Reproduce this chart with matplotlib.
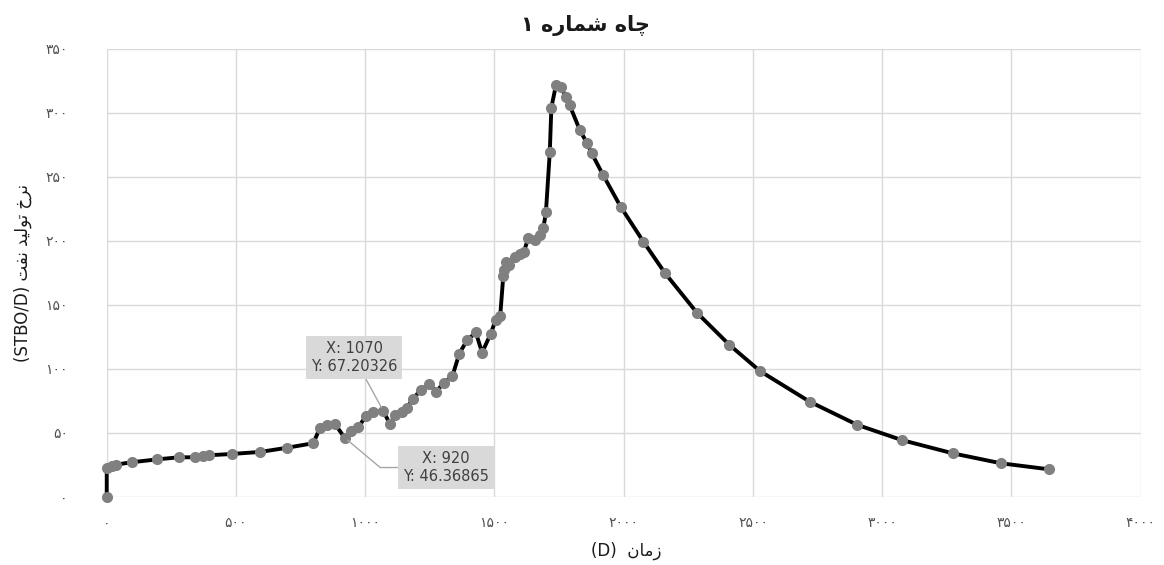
import matplotlib
matplotlib.use("Agg")
import matplotlib.pyplot as plt
from matplotlib.ticker import MultipleLocator, FuncFormatter

# Production data
days = [0, 0, 19, 36, 96, 196, 279, 340, 374, 397, 484, 594, 696, 799, 825, 851,
        883, 920, 944, 973, 1003, 1031, 1070, 1096, 1115, 1141, 1160, 1184, 1215,
        1248, 1274, 1305, 1337, 1364, 1394, 1428, 1452, 1485, 1504, 1522, 1534,
        1538, 1545, 1558, 1580, 1600, 1614, 1630, 1658, 1677, 1689, 1699, 1714,
        1720, 1738, 1756, 1776, 1791, 1830, 1857, 1876, 1920, 1988, 2076, 2160,
        2283, 2409, 2527, 2719, 2904, 3075, 3273, 3460, 3646]
rate = [0, 22.4, 24.2, 25.3, 27.1, 29.4, 31.0, 31.0, 31.8, 32.6, 33.6, 35.2, 38.4,
        42.0, 54.0, 56.0, 57.0, 46.36865, 51.5, 54.4, 63.3, 66.0, 67.20326, 56.8,
        64.0, 66.7, 69.3, 76.5, 83.6, 88.5, 82.3, 89.3, 94.3, 112.0, 122.5, 128.5,
        112.8, 127.3, 138.0, 141.0, 172.7, 177.3, 183.8, 181.3, 187.7, 189.8,
        191.6, 202.0, 200.5, 204.3, 209.9, 222.5, 269.5, 304.2, 321.9, 320.5,
        312.7, 306.0, 286.7, 276.8, 268.5, 251.6, 226.8, 199.5, 174.8, 144.0,
        118.8, 98.4, 74.5, 56.3, 44.5, 34.1, 26.3, 21.6]

# data tips shown on the chart: (x, y)
tips = [(1070, 67.20326), (920, 46.36865)]

title_fa = "چاه شماره ۱"
xlabel_fa = "زمان"
ylabel_fa = "نرخ تولید نفت"

# Arabic presentation forms: isolated, final, initial, medial
FORMS = {
    "ا": ("\uFE8D", "\uFE8E"),
    "د": ("\uFEA9", "\uFEAA"),
    "ر": ("\uFEAD", "\uFEAE"),
    "ز": ("\uFEAF", "\uFEB0"),
    "و": ("\uFEED", "\uFEEE"),
    "ت": ("\uFE95", "\uFE96", "\uFE97", "\uFE98"),
    "خ": ("\uFEA5", "\uFEA6", "\uFEA7", "\uFEA8"),
    "ش": ("\uFEB5", "\uFEB6", "\uFEB7", "\uFEB8"),
    "ف": ("\uFED1", "\uFED2", "\uFED3", "\uFED4"),
    "ل": ("\uFEDD", "\uFEDE", "\uFEDF", "\uFEE0"),
    "م": ("\uFEE1", "\uFEE2", "\uFEE3", "\uFEE4"),
    "ن": ("\uFEE5", "\uFEE6", "\uFEE7", "\uFEE8"),
    "ه": ("\uFEE9", "\uFEEA", "\uFEEB", "\uFEEC"),
    "ی": ("\uFBFC", "\uFBFD", "\uFBFE", "\uFBFF"),
    "چ": ("\uFB7A", "\uFB7B", "\uFB7C", "\uFB7D"),
}


def shape(text):
    # join letters and reverse so the text reads right to left
    out = []
    for i, ch in enumerate(text):
        f = FORMS.get(ch)
        if f is None:
            out.append(ch)
            continue
        prev = text[i - 1] if i > 0 else ""
        nxt = text[i + 1] if i + 1 < len(text) else ""
        jp = prev in FORMS and len(FORMS[prev]) == 4
        jn = nxt in FORMS and len(f) == 4
        if jp and jn:
            out.append(f[3])
        elif jp:
            out.append(f[1])
        elif jn:
            out.append(f[2])
        else:
            out.append(f[0])
    return "".join(out)[::-1]


FA_DIGITS = str.maketrans("0123456789", "۰۱۲۳۴۵۶۷۸۹")


def fa_num(v, pos):
    return str(int(round(v))).translate(FA_DIGITS)


plt.rcParams["font.family"] = ["DejaVu Sans"]

fig = plt.figure(figsize=(11.64, 5.65), dpi=100)
ax = fig.add_axes([0.0917, 0.1204, 0.8883, 0.7929])

ax.plot(days, rate, color="black", lw=2.8, marker="o", ms=7,
        mfc="#808080", mec="#808080", zorder=3, clip_on=False)

ax.set_xlim(0, 4000)
ax.set_ylim(0, 350)
ax.xaxis.set_major_locator(MultipleLocator(500))
ax.yaxis.set_major_locator(MultipleLocator(50))
ax.xaxis.set_major_formatter(FuncFormatter(fa_num))
ax.yaxis.set_major_formatter(FuncFormatter(fa_num))
ax.grid(True, color="#d9d9d9", lw=1)
ax.set_axisbelow(True)
for s in ax.spines.values():
    s.set_visible(False)
ax.tick_params(length=0, labelsize=10, labelcolor="#505050")
ax.tick_params(axis="y", pad=28)
ax.tick_params(axis="x", pad=14)

fig.text(0.503, 0.955, shape(title_fa), ha="center", va="center",
         fontsize=15, fontweight="bold", color="#1a1a1a")
fig.text(0.538, 0.025, "(D)  " + shape(xlabel_fa), ha="center", va="center",
         fontsize=12, color="#1a1a1a")
fig.text(0.02, 0.517, "(STBO/D) " + shape(ylabel_fa), ha="center",
         va="center", rotation=90, fontsize=12, color="#1a1a1a")

box = dict(boxstyle="square,pad=0.35", fc="#d9d9d9", ec="none")
arrow = dict(arrowstyle="-", color="#a6a6a6", lw=1, shrinkA=0, shrinkB=3)

x0, y0 = tips[0]
ax.annotate(f"X: {x0}\nY: {y0}", xy=(x0, y0), xytext=(957, 109),
            ha="center", va="center", fontsize=10.5, color="#404040",
            linespacing=1.3, bbox=box, arrowprops=arrow, zorder=5)

x1, y1 = tips[1]
ax.annotate(f"X: {x1}\nY: {y1}", xy=(x1, y1), xytext=(1313, 23),
            ha="center", va="center", fontsize=10.5, color="#404040",
            linespacing=1.3, bbox=box,
            arrowprops=dict(arrow, connectionstyle="angle,angleA=0,angleB=140,rad=0"),
            zorder=5)

fig.savefig("out.png", dpi=100)
